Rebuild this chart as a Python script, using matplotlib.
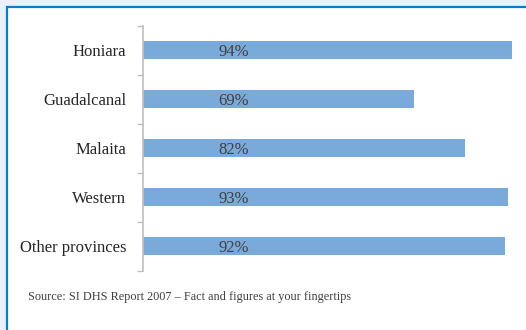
import numpy as np
import matplotlib.pyplot as plt
from matplotlib.patches import Rectangle

plt.rcParams.update({'font.family': 'serif', 'font.serif': ['Liberation Serif', 'DejaVu Serif']})

regions = ['Honiara', 'Guadalcanal', 'Malaita', 'Western', 'Other provinces']
pct = [94, 69, 82, 93, 92]
source = 'Source: SI DHS Report 2007 \u2013 Fact and figures at your fingertips'

W, H = 526, 330
fig = plt.figure(figsize=(W / 100, H / 100), dpi=100, facecolor='#ebf1fa')

# white panel with blue frame, running off the right/bottom edge
fig.patches.append(Rectangle((7 / W, -0.1), 1.2, 1 - 7 / H + 0.1, transform=fig.transFigure,
                             facecolor='white', edgecolor='#0b7bcb', lw=1.6, zorder=-5))

ax = fig.add_axes([143 / W, 1 - 270.5 / H, 393 / W, 245 / H])
ax.set_facecolor('none')
y = np.arange(len(regions))
ax.barh(y, pct, height=0.37, color='#7aaad9', zorder=2)
for yi, v in zip(y, pct):
    ax.text(23, yi, f'{v}%', ha='center', va='center_baseline', fontsize=12,
            color='#404040', zorder=3)

ax.set_xlim(0, 100)
ax.set_ylim(len(regions) - 0.5, -0.5)
ax.set_xticks([])
ax.set_yticks(y)
ax.set_yticklabels(regions, fontsize=12, color='#262626')
ax.set_yticks(np.arange(len(regions) + 1) - 0.5, minor=True)
ax.tick_params(axis='y', which='major', length=0, pad=12)
ax.tick_params(axis='y', which='minor', length=4.5, width=1, color='#bfbfbf', direction='out')
for s in ['top', 'right', 'bottom']:
    ax.spines[s].set_visible(False)
ax.spines['left'].set_color('#bfbfbf')
ax.spines['left'].set_linewidth(1.2)

fig.text(28 / W, 1 - 297 / H, source, fontsize=8.8, color='#404040', ha='left', va='center')

fig.savefig('out.png', dpi=100, facecolor=fig.get_facecolor())
